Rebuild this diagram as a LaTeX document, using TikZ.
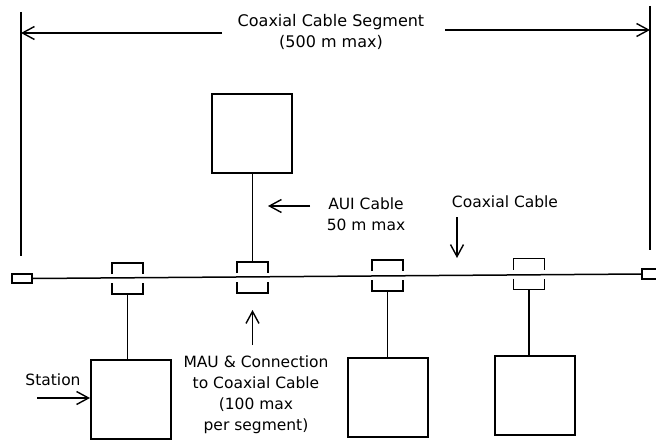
\documentclass[tikz,border=0pt]{standalone}
\usepackage{fontspec}
\setmainfont{DejaVu Sans}
\usetikzlibrary{arrows.meta}
\tikzset{
  station/.style={draw, line width=2pt, minimum width=80pt, minimum height=79pt, inner sep=0pt},
  term/.style={draw, line width=1.8pt, minimum width=20pt, minimum height=9pt, inner sep=0pt},
  wire/.style={line width=1.9pt},
  bus/.style={line width=1.5pt},
  dim/.style={line width=1.4pt, -{Straight Barb[length=12pt,width=13pt,line width=1.4pt]}},
  lbl/.style={font=\fontsize{15.5}{21}\selectfont, align=center, inner sep=0pt},
  toplbl/.style={font=\fontsize{16}{21}\selectfont, align=center, inner sep=0pt},
  mau/.pic={
    \draw[wire] (-15.5,-5) -- (-15.5,-16) -- (15.5,-16) -- (15.5,-5);
    \draw[wire] (-15.5,4) -- (-15.5,15) -- (15.5,15) -- (15.5,4);
    \coordinate (-top) at (0,-16);
    \coordinate (-bot) at (0,15);
  }
}
\begin{document}
\begin{tikzpicture}[x=1pt,y=-1pt]
\useasboundingbox[fill=white] (0,0) rectangle (656,441);

% segment extent markers
\coordinate (lt) at (21,12);
\coordinate (lb) at (21,256);
\coordinate (rt) at (650,6);
\coordinate (rb) at (650,250);
\draw[wire] (lt) -- (lb);
\draw[wire] (rt) -- (rb);

\node[toplbl] (seg) at (331,32) {Coaxial Cable Segment\\(500 m max)};
\coordinate (la) at (222,33);
\coordinate (ra) at (445,30);
\draw[dim] (la) -- (lt |- la);
\draw[dim] (ra) -- (rt |- ra);

% terminators and bus
\node[term] (t1) at (22,278.5) {};
\coordinate (t2) at (642,274);
\draw[wire] (657,269) -- (642,269) -- (642,279) -- (657,279);
\draw[bus] (t1.east) -- (t2);

% MAUs
\pic (m1) at (127.5,279) {mau};
\pic (m2) at (252.5,278) {mau};
\pic (m3) at (387.5,276) {mau};
\pic (m4) at (529,274.5) {mau};

% stations
\node[station] (s0) at (251.5,133.5) {};
\node[station] (s1) at (131,399) {};
\node[station] (s3) at (387.5,397) {};
\node[station] (s4) at (535,395.5) {};

\draw[wire] (m2-top) -- (m2-top |- s0.south);
\draw[wire] (m1-bot) -- (m1-bot |- s1.north);
\draw[wire] (m3-bot) -- (m3-bot |- s3.north);
\draw[wire] (m4-bot) -- (m4-bot |- s4.north);

% labels
\node[lbl] (aui) at (366,214.5) {AUI Cable\\50 m max};
\coordinate (auia) at (310,206);
\draw[dim] (auia) -- (268,206);

\node[lbl] (coax) at (505,202) {Coaxial Cable};
\coordinate (coaxa) at (457,217);
\draw[dim] (coaxa) -- (457,258);

\node[lbl] (stn) at (53,380) {Station};
\coordinate (stna) at (37,398);
\draw[dim] (stna) -- (s1.west |- stna);

\node[lbl] (maul) at (256,395) {MAU \& Connection\\to Coaxial Cable\\(100 max\\per segment)};
\coordinate (maua) at (252.5,345);
\draw[dim] (maua) -- (252.5,310);
\end{tikzpicture}
\end{document}
